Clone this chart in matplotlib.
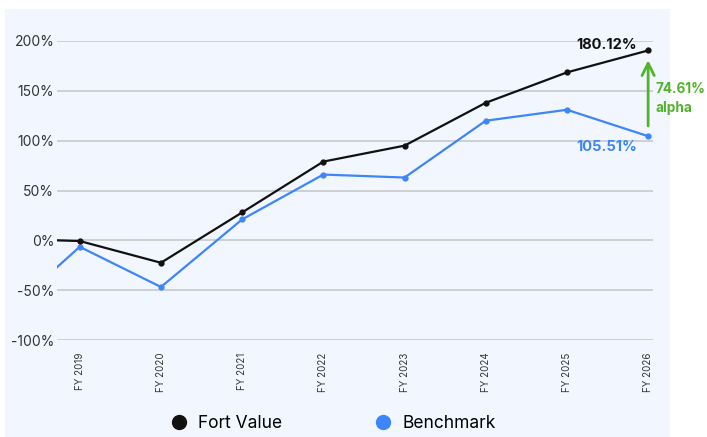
import matplotlib.pyplot as plt
from matplotlib.lines import Line2D
from matplotlib.patches import Rectangle

plt.rcParams['font.family'] = ['Inter', 'DejaVu Sans']

# 数据
x_labels = ["FY 2019", "FY 2020", "FY 2021", "FY 2022", "FY 2023", "FY 2024", "FY 2025", "FY 2026"]
x_pos = [-0.28, 0, 1, 2, 3, 4, 5, 6, 7]   # 第一个点是起始点
fort_value = [0, -0.7, -22.5, 28, 79, 95, 138, 168.5, 190.5]
benchmark = [-27, -6.5, -46.8, 21, 66, 63, 120, 131, 104.5]
fort_label = "180.12%"
bench_label = "105.51%"
alpha_label = "74.61%"

black = "#111111"
blue = "#3D86FA"
green = "#52B32B"
grid_c = "#C9C9C9"
bg = "#F2F6FE"

fig = plt.figure(figsize=(7.07, 4.37), dpi=100)
fig.patches.append(Rectangle((5 / 707, 0), 665 / 707, 1 - 9 / 437,
                             transform=fig.transFigure, facecolor=bg,
                             edgecolor='none', zorder=-10))

ax = fig.add_axes([57 / 707, 1 - 340 / 437, (653 - 57) / 707, (340 - 41) / 437])
ax.set_facecolor('none')

# 起始点不画标记
marks = list(range(1, len(x_pos)))
ax.plot(x_pos, fort_value, color=black, lw=1.6, marker='o', ms=3.5,
        markevery=marks, zorder=4)
ax.plot(x_pos, benchmark, color=blue, lw=1.6, marker='o', ms=3.5,
        markevery=marks, zorder=3)

ax.set_xlim(-0.28, 7.06)
ax.set_ylim(-100, 200)
ax.set_yticks([-100, -50, 0, 50, 100, 150, 200])
ax.set_yticklabels([f"{v}%" for v in [-100, -50, 0, 50, 100, 150, 200]])
ax.set_xticks(range(len(x_labels)))
ax.set_xticklabels(x_labels, rotation=90, fontsize=7, color="#333333")
ax.tick_params(axis='y', length=0, pad=2, labelsize=10, labelcolor="#333333")
ax.tick_params(axis='x', length=0, pad=9)
ax.yaxis.grid(True, color=grid_c, lw=1.2)
ax.set_axisbelow(True)
for s in ax.spines.values():
    s.set_visible(False)

# 标注
last = len(x_pos) - 1
ax.annotate(fort_label, (x_pos[last], fort_value[last]), xytext=(-8, 4),
            textcoords='offset points', ha='right', va='center',
            fontsize=10.5, fontweight='bold', color=black)
ax.annotate(bench_label, (x_pos[last], benchmark[last]), xytext=(-8, -8),
            textcoords='offset points', ha='right', va='center',
            fontsize=10.5, fontweight='bold', color=blue)
ax.annotate('', xy=(x_pos[last], 183.5), xytext=(x_pos[last], 112),
            arrowprops=dict(arrowstyle='->', color=green, lw=2, mutation_scale=22))
ax.annotate(alpha_label, (x_pos[last], 151.5), xytext=(5.5, 0),
            textcoords='offset points', ha='left', va='center',
            fontsize=9.8, fontweight='bold', color=green, annotation_clip=False)
ax.annotate("alpha", (x_pos[last], 132.5), xytext=(5.5, 0),
            textcoords='offset points', ha='left', va='center',
            fontsize=9.8, fontweight='bold', color=green, annotation_clip=False)

# 图例
handles = [Line2D([], [], ls='none', marker='o', ms=10, color=black),
           Line2D([], [], ls='none', marker='o', ms=10, color=blue)]
fig.legend(handles, ["Fort Value", "Benchmark"], loc='center',
           bbox_to_anchor=(333 / 707, 1 - 424 / 437), ncol=2, frameon=False,
           fontsize=12.5, handletextpad=0.6, columnspacing=5.35, handlelength=1)

fig.savefig("out.png", dpi=100)
